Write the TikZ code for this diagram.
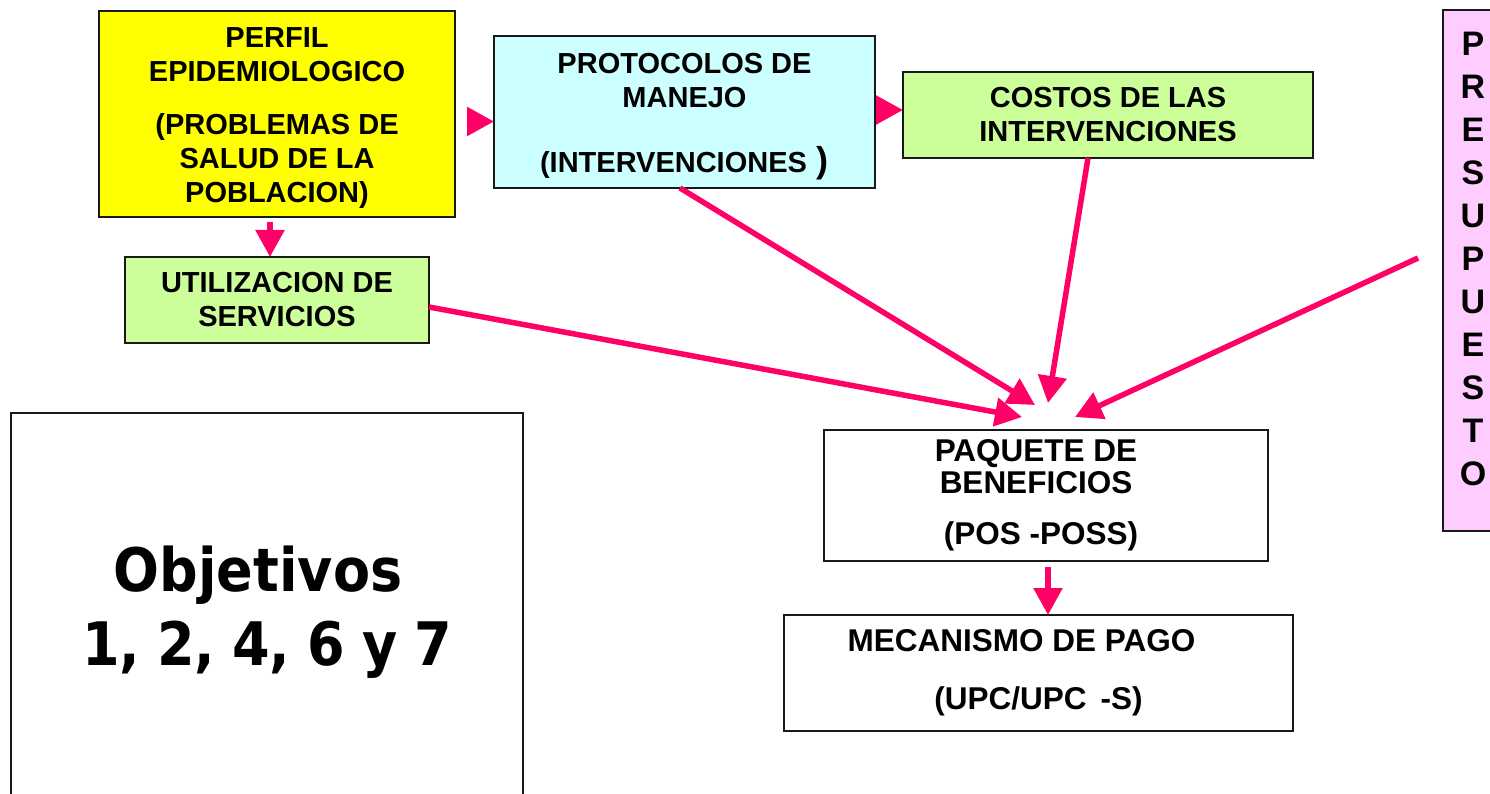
\documentclass[tikz,border=0pt]{standalone}
\usepackage{fontspec}
\setmainfont{Liberation Sans}
\newfontfamily\objfont{DejaVu Sans}[FakeStretch=0.9]
\usetikzlibrary{arrows.meta}
\definecolor{Cpink}{RGB}{255,0,102}
\definecolor{Cyellow}{RGB}{255,255,0}
\definecolor{Ccyan}{RGB}{204,255,255}
\definecolor{Cgreen}{RGB}{204,255,153}
\definecolor{Clilac}{RGB}{255,204,255}

\tikzset{
  box/.style={draw=black!90, line width=1.6pt, inner sep=0pt, outer sep=0pt,
    align=center, font=\fontsize{29}{34}\selectfont\bfseries},
  bigbox/.style={box, font=\fontsize{31.5}{31.5}\selectfont\bfseries},
  flow/.style={color=Cpink, line width=5.5pt, -{Triangle[length=27pt,width=28pt]}},
}

\begin{document}
\begin{tikzpicture}[x=1pt,y=-1pt]

  \useasboundingbox (0,0) rectangle (1490,794);
  \clip (0,0) rectangle (1490,794);

  % Top row.
  \node[box, fill=Cyellow, minimum width=356pt, minimum height=206pt] (perfil) at (277,114)
    {\rule{0pt}{29pt}PERFIL\\ EPIDEMIOLOGICO\\[19pt] (PROBLEMAS DE\\ SALUD DE LA\\ POBLACION)};
  \node[box, fill=Ccyan, minimum width=381pt, minimum height=152pt] (protocolos) at (684.5,112)
    {\rule{0pt}{29pt}PROTOCOLOS DE\\ MANEJO\\[31pt] (INTERVENCIONES\kern10pt{\fontsize{36}{34}\selectfont )}};
  \node[box, fill=Cgreen, minimum width=410pt, minimum height=86pt] (costos) at (1108,115)
    {COSTOS DE LAS\\ INTERVENCIONES};

  % Budget column (right edge runs off the page).
  \node[box, fill=Clilac, minimum width=60pt, minimum height=521pt,
    font=\fontsize{34}{43}\selectfont\bfseries] (presupuesto) at (1473,270.5)
    {P\\R\\E\\S\\U\\P\\U\\E\\S\\T\\O\rule[-23pt]{0pt}{23pt}};

  \node[box, fill=Cgreen, minimum width=304pt, minimum height=86pt] (utilizacion) at (277,300)
    {UTILIZACION DE\\ SERVICIOS};

  % Lower part (objectives box runs off the bottom).
  \node[box, minimum width=512pt, minimum height=398pt,
    font={\objfont\bfseries\fontsize{60}{74}\selectfont}] (objetivos) at (267,612)
    {Objetivos\kern18pt\\ 1,\kern17pt 2,\kern17pt 4,\kern17pt 6\kern17pt y\kern17pt 7};
  \node[bigbox, minimum width=444pt, minimum height=131pt] (paquete) at (1046,495.5)
    {PAQUETE DE\kern20pt\\ BENEFICIOS\kern20pt\\[20pt] (POS -POSS)\kern10pt};
  \node[bigbox, minimum width=509pt, minimum height=116pt] (mecanismo) at (1038.5,673)
    {MECANISMO DE PAGO\kern34pt\\[27pt] (UPC/UPC\kern14pt-S)};

  % Free ends of the long arrows.
  \coordinate (s4) at ([xshift=-25pt,yshift=12.5pt]presupuesto.west);
  \coordinate (t1) at ([xshift=-24pt,yshift=13pt]paquete.north);
  \coordinate (t2) at ([xshift=-11pt,yshift=25pt]paquete.north);
  \coordinate (t3) at ([xshift=2pt,yshift=27pt]paquete.north);
  \coordinate (t4) at ([xshift=29pt,yshift=13pt]paquete.north);

  % Short arrows between boxes.
  \draw[flow, shorten <=11.5pt] ([yshift=-7.5pt]perfil.east) -- ([yshift=-7.5pt]perfil.east -| protocolos.west);
  \draw[flow, shorten <=0.5pt] ([yshift=2pt]protocolos.east) -- ([yshift=2pt]protocolos.east -| costos.west);
  \draw[flow, shorten <=5pt] ([xshift=-7pt]perfil.south) -- ([xshift=-7pt]perfil.south |- utilizacion.north);
  \draw[flow, shorten <=6pt] ([xshift=2pt]paquete.south) -- ([xshift=2pt]paquete.south |- mecanismo.north);

  % Long arrows into the package.
  \draw[flow] ([yshift=-7pt]utilizacion.east) -- (t1);
  \draw[flow] ([xshift=-4.5pt]protocolos.south) -- (t2);
  \draw[flow] ([xshift=-20pt]costos.south) -- (t3);
  \draw[flow] (s4) -- (t4);

\end{tikzpicture}
\end{document}
